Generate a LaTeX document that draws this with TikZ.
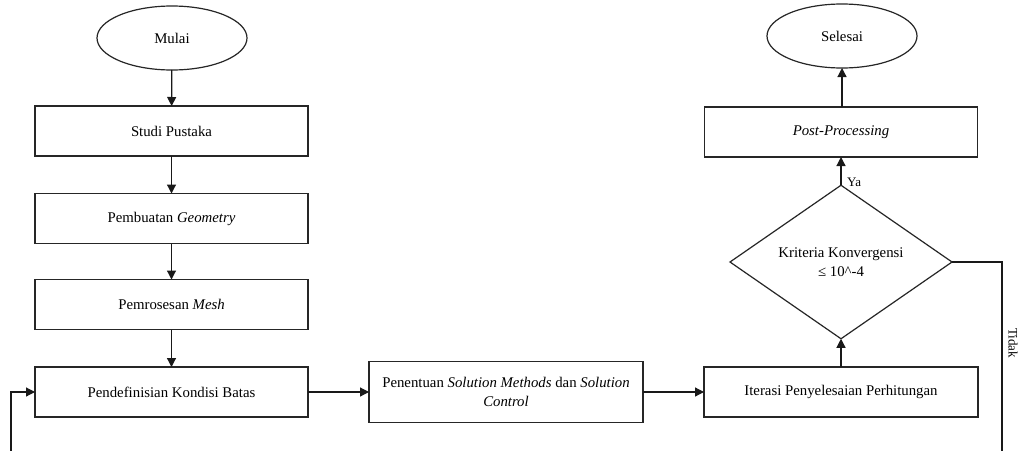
\documentclass[tikz,border=0pt]{standalone}
\usepackage{fontspec}
\setmainfont{Liberation Serif}
\usetikzlibrary{shapes.geometric,arrows.meta}
\begin{document}
\begin{tikzpicture}[x=1pt,y=-1pt,
  base/.style={draw=black!85, line width=1.2pt, inner sep=0pt, outer sep=0pt, align=center, font=\fontsize{14.8}{18.5}\selectfont},
  term/.style={base, ellipse, minimum width=150pt, minimum height=64pt},
  proc/.style={base, rectangle, minimum width=273pt, minimum height=50pt},
  dec/.style={base, diamond, minimum width=222pt, minimum height=136pt},
  conn/.style={draw=black!90, line width=1.2pt, -{Triangle[length=9pt,width=9pt]}},
  lbl/.style={font=\fontsize{13}{15}\selectfont, inner sep=0pt}]
\useasboundingbox (0,0) rectangle (1019,450);
\clip (0,0) rectangle (1019,450);
\fill[white] (0,0) rectangle (1019,450);

\node[term] (mulai) at (172,38) {Mulai};
\node[proc] (studi) at (171.5,131) {Studi Pustaka};
\node[proc] (geom) at (171.5,218.5) {Pembuatan \textit{Geometry}};
\node[proc] (mesh) at (171.5,304.5) {Pemrosesan \textit{Mesh}};
\node[proc] (pend) at (171.5,392) {Pendefinisian Kondisi Batas};
\node[proc, minimum width=274pt, minimum height=61pt] (sol) at (506,392) {Penentuan \textit{Solution Methods} dan \textit{Solution}\\\textit{Control}};
\node[proc, minimum width=274pt] (iter) at (841,392) {Iterasi Penyelesaian Perhitungan};
\node[dec] (krit) at (841,262) {Kriteria Konvergensi\\≤ 10\textasciicircum-4};
\node[proc] (post) at (841,132) {\textit{Post-Processing}};
\node[term] (sel) at (842,36) {Selesai};

\coordinate (c1) at (1002,470);
\coordinate (c2) at (11,470);

\draw[conn] (mulai) -- (studi);
\draw[conn] (studi) -- (geom);
\draw[conn] (geom) -- (mesh);
\draw[conn] (mesh) -- (pend);
\draw[conn] (pend) -- (sol);
\draw[conn] (sol) -- (iter);
\draw[conn] (iter) -- (krit);
\draw[conn] (krit) -- (post);
\draw[conn] (post.north -| sel.south) -- (sel.south);
\draw[conn] (krit.east) -| (c1) -- (c2) |- (pend.west);

\node[lbl, anchor=west] (ya) at (847,182) {Ya};
\node[lbl, rotate=-90, anchor=base] (tidak) at (1008.5,343) {Tidak};
\end{tikzpicture}
\end{document}
